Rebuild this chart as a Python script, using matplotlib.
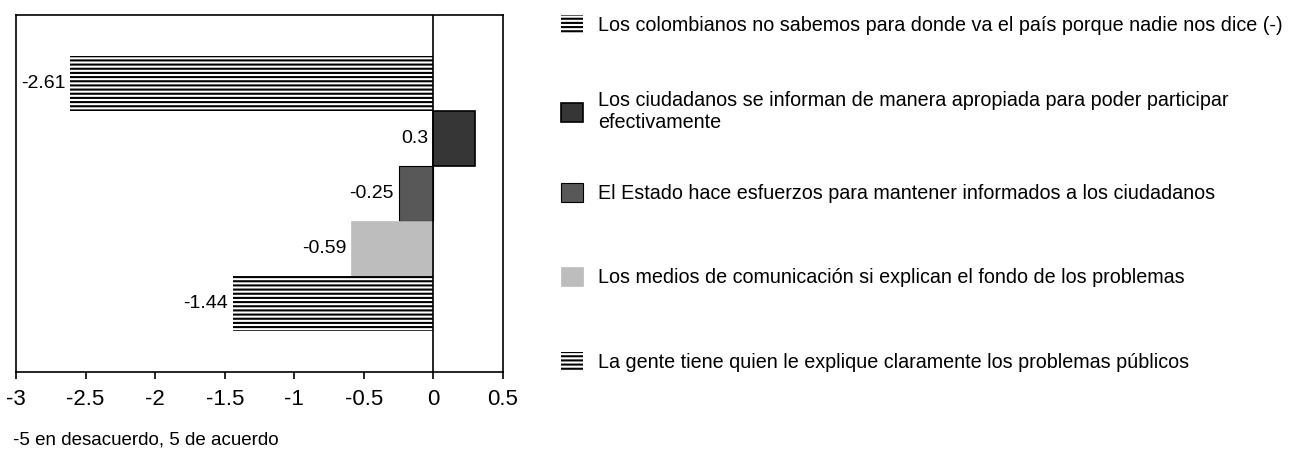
import matplotlib.pyplot as plt
from matplotlib.patches import Patch

plt.rcParams['font.family'] = ['Liberation Sans', 'DejaVu Sans']
plt.rcParams['hatch.linewidth'] = 1.5

# data, top bar first
labels = [
    "Los colombianos no sabemos para donde va el país porque nadie nos dice (-)",
    "Los ciudadanos se informan de manera apropiada para poder participar\nefectivamente",
    "El Estado hace esfuerzos para mantener informados a los ciudadanos",
    "Los medios de comunicación si explican el fondo de los problemas",
    "La gente tiene quien le explique claramente los problemas públicos",
]
values = [-2.61, 0.3, -0.25, -0.59, -1.44]
value_text = ["-2.61", "0.3", "-0.25", "-0.59", "-1.44"]
x_ticks = [-3, -2.5, -2, -1.5, -1, -0.5, 0, 0.5]
x_ticklabels = ["-3", "-2.5", "-2", "-1.5", "-1", "-0.5", "0", "0.5"]
caption = "-5 en desacuerdo, 5 de acuerdo"

styles = [
    dict(facecolor='white', edgecolor='black', hatch='----', linewidth=0),
    dict(facecolor='#363636', edgecolor='black', hatch='', linewidth=1.2),
    dict(facecolor='#585858', edgecolor='black', hatch='', linewidth=0.8),
    dict(facecolor='#bdbdbd', edgecolor='#bdbdbd', hatch='', linewidth=0.5),
    dict(facecolor='white', edgecolor='black', hatch='----', linewidth=0),
]

fig = plt.figure(figsize=(12.89, 4.57), dpi=100)
ax = fig.add_axes([0.0124, 0.186, 0.3778, 0.781])

n = len(values)
ypos = [n - 1 - i for i in range(n)]
for i in range(n):
    ax.barh(ypos[i], values[i], height=1.0, **styles[i])
    xl = min(values[i], 0)
    ax.text(xl - 0.035, ypos[i], value_text[i], ha='right', va='center', fontsize=14)

ax.axvline(0, color='black', linewidth=1.2)
ax.set_xlim(-3, 0.5)
ax.set_ylim(-1.235, n - 1 + 1.235)
ax.set_xticks(x_ticks)
ax.set_xticklabels(x_ticklabels, fontsize=16)
ax.set_yticks([])
ax.tick_params(axis='x', direction='out', length=5, width=1.2, pad=7)
for s in ax.spines.values():
    s.set_linewidth(1.2)

# legend entries, one per row on the right
row_y = [25, 112, 193, 277, 362]
H = 457.0
for i in range(n):
    lg = fig.legend([Patch(**styles[i])], [labels[i]], loc='center left',
                    bbox_to_anchor=(0.4217, 1 - row_y[i] / H), frameon=False,
                    fontsize=14.2, handlelength=1.1, handleheight=1.1,
                    handletextpad=0.75, borderaxespad=0.5)

fig.text(0.0101, 1 - 440 / H, caption, fontsize=13.5, ha='left', va='center')

fig.savefig('out.png', dpi=100)
